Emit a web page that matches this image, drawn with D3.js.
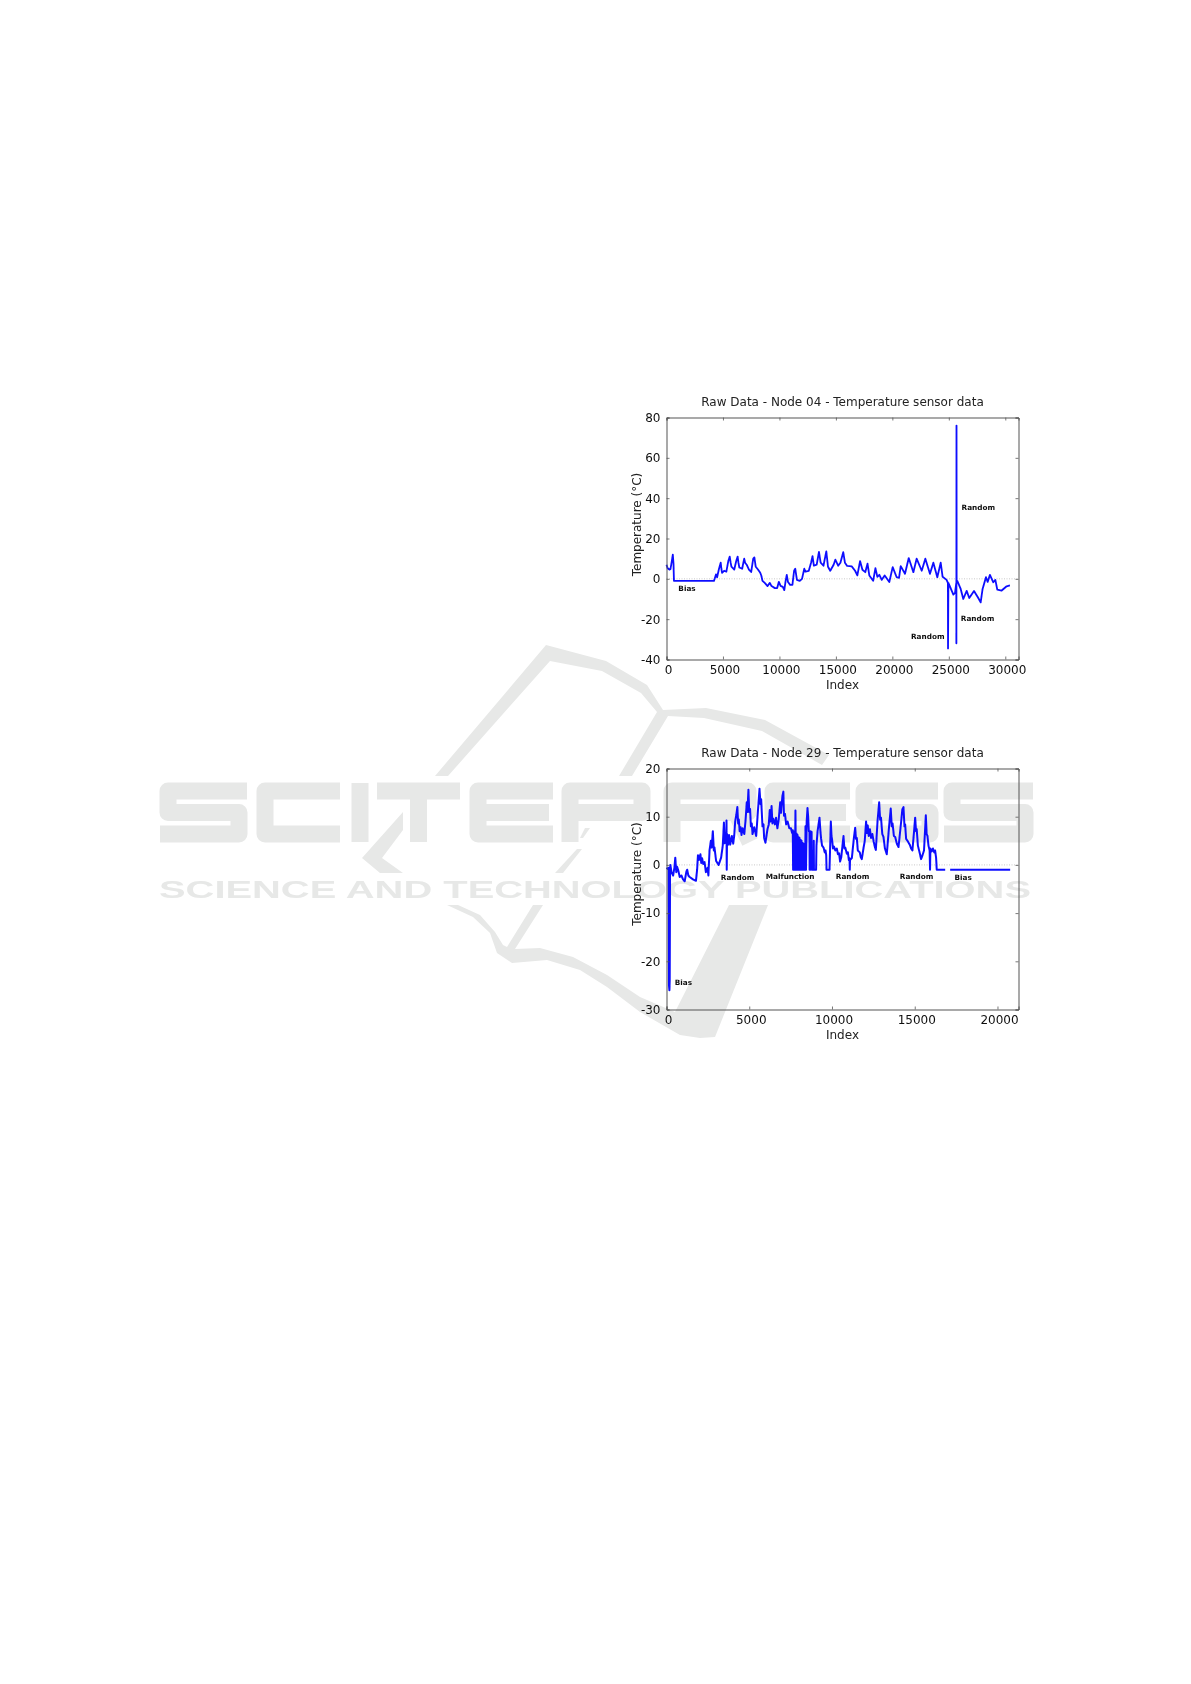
<!DOCTYPE html>
<html><head><meta charset="utf-8">
<script src="https://cdn.jsdelivr.net/npm/d3@7"></script>
<style>html,body{margin:0;background:#fff}svg{display:block}</style></head>
<body><svg id="c" width="1191" height="1684"></svg>
<script>
const node04Title = "Raw Data - Node 04 - Temperature sensor data";
const node29Title = "Raw Data - Node 29 - Temperature sensor data";
const xLabel = "Index", yLabel = "Temperature (°C)";
const node04XTicks = [0,5000,10000,15000,20000,25000,30000];
const node04YTicks = [-40,-20,0,20,40,60,80];
const node29XTicks = [0,5000,10000,15000,20000];
const node29YTicks = [-30,-20,-10,0,10,20];
const node04Domain = {x:[0,31170], y:[-40,80]};
const node29Domain = {x:[0,21270], y:[-30,20]};
const node04Notes = [["Bias",1050,-4.6],["Random",26130,35.3],["Random",26060,-19.4],["Random",21650,-28.5]];
const node29Notes = [["Bias",500,-24.4],["Random",3280,-2.6],["Malfunction",6000,-2.4],["Random",10230,-2.4],["Random",14100,-2.3],["Bias",17400,-2.6]];
const node04Points = [[0,7],[100,5.2],[250,4.6],[350,4.8],[450,8],[560,12],[620,7.5],[660,-1],[4200,-1],[4280,0.3],[4380,2.2],[4480,0.8],[4650,5],[4800,8],[4860,5],[4920,3],[5100,4],[5300,3.6],[5480,9],[5600,11],[5680,8],[5750,6],[6000,4.6],[6180,9],[6300,11],[6370,8],[6450,5.6],[6700,5],[6880,10],[6960,8],[7100,7],[7300,4.6],[7500,3.4],[7680,10],[7780,10.6],[7900,6],[8100,4.6],[8300,3],[8400,1.5],[8500,-1],[8700,-2],[8950,-3.6],[9150,-2],[9300,-3.6],[9600,-4.6],[9800,-4.6],[9950,-1.5],[10100,-3.5],[10300,-4],[10430,-5.6],[10550,-1],[10650,2],[10760,-1.6],[10950,-3],[11150,-3],[11300,4],[11400,5],[11550,-0.5],[11800,-1],[12000,0],[12200,5],[12300,3.6],[12600,4],[12800,8],[12930,11.2],[13050,6.5],[13300,7],[13500,13.4],[13650,8],[13900,6.5],[14150,13.6],[14300,6],[14500,4],[14800,7],[14950,9.5],[15200,6.5],[15400,8],[15650,13.2],[15800,8],[16000,6.4],[16400,6.2],[16700,4],[16900,1.7],[17140,8.8],[17350,4.5],[17600,3.3],[17800,7.5],[17960,1.7],[18300,-1],[18500,5.3],[18670,1],[18850,2],[19060,-0.5],[19320,1.7],[19730,-1.6],[20030,5.8],[20380,0.8],[20590,0.5],[20740,6.3],[21120,2.5],[21450,10.3],[21860,3.3],[22150,10],[22600,4],[22920,10],[23330,2.5],[23630,8],[23980,0.8],[24280,8],[24450,1],[24800,-0.5],[24920,-2],[24930,-34.5],[24960,-2],[25150,-4.5],[25400,-7.8],[25550,-7],[25660,-2],[25670,-32],[25680,76],[25690,-1],[25750,-1],[26050,-5],[26280,-10],[26580,-6],[26810,-9.5],[27230,-6],[27610,-9.5],[27820,-11.7],[27990,-5],[28290,0.8],[28440,-1.5],[28640,2],[28940,-1.7],[29120,-0.5],[29290,-5.3],[29680,-5.8],[30120,-3.7],[30410,-3.3]];
const node29Points = [[0,-0.6],[100,-0.9],[130,-0.6],[150,-25],[175,-26],[195,-24],[215,-1],[235,0],[300,-1.5],[400,-2.2],[480,-0.5],[530,1.5],[590,-1.5],[640,-0.4],[700,-1],[800,-2.5],[900,-2.2],[1000,-3],[1100,-3.4],[1200,-1.4],[1250,-1],[1320,-2.2],[1400,-2.5],[1600,-3],[1780,-3.3],[1850,-1],[1900,2],[1960,1],[2050,2.2],[2100,0.4],[2150,1.4],[2220,0.2],[2300,0.6],[2380,-1.5],[2480,-0.6],[2530,-2.2],[2600,3],[2680,5],[2730,3.6],[2800,7],[2860,3],[2900,3.6],[3000,0.8],[3150,0],[3300,1.5],[3400,4],[3470,8.8],[3510,4.5],[3560,6.6],[3600,4.6],[3625,9.2],[3640,-1],[3660,6.4],[3720,4.2],[3780,6.2],[3850,4.2],[3950,6],[4030,4.4],[4090,6],[4150,9],[4220,10.4],[4280,12],[4330,8.6],[4370,9.4],[4420,7],[4480,7.8],[4530,6.2],[4600,7.6],[4700,6.4],[4780,9.4],[4850,13],[4890,11],[4950,15.6],[5000,11],[5050,11.6],[5100,8],[5150,8.6],[5200,6.4],[5300,7.8],[5420,6],[5520,11],[5580,13.8],[5620,15.8],[5680,12.6],[5720,13.6],[5800,8],[5860,8.4],[5900,5.6],[5980,4.6],[6100,7.4],[6180,8.4],[6240,11.4],[6290,9],[6350,12.2],[6400,8.6],[6450,9.6],[6550,8.4],[6620,9.8],[6700,7.6],[6780,9.4],[6870,13],[6920,10.8],[7000,14.2],[7060,15.2],[7100,10.2],[7160,10.6],[7230,8.4],[7320,9],[7420,7.6],[7520,7.6],[7590,6.6],[7630,7.2],[7650,-1],[7670,7],[7700,-1],[7730,6.6],[7760,-1],[7790,11.3],[7830,-1],[7860,6.5],[7890,-1],[7920,6.2],[7950,-1],[7980,5.8],[8010,-1],[8040,5.6],[8070,-1],[8100,5.2],[8130,-1],[8160,5],[8190,-1],[8220,4.6],[8250,-1],[8280,4.4],[8310,-1],[8340,4],[8370,-1],[8400,8],[8430,-1],[8470,9],[8520,11.8],[8560,10],[8600,7],[8640,7],[8650,-1],[8690,-1],[8700,7],[8770,6.8],[8780,-1],[8890,-1],[8900,5],[8910,-1],[9040,-1],[9060,4],[9130,7],[9245,9.8],[9300,7],[9340,5.5],[9400,4],[9490,3.6],[9560,2.6],[9610,3],[9650,2],[9670,-1],[9850,-1],[9930,9],[9970,6],[10000,5.4],[10060,3.4],[10120,3.8],[10200,3],[10290,3.4],[10360,2.2],[10430,2.4],[10490,0.7],[10560,1.6],[10640,4.2],[10695,6],[10750,3.4],[10800,3.6],[10900,2.3],[10960,2.6],[11020,1],[11060,1.4],[11075,-1],[11090,1],[11200,1.4],[11320,5.5],[11400,7.7],[11450,5.4],[11500,5.6],[11560,3],[11680,2.6],[11740,1.6],[11800,1.2],[11900,3.4],[11980,5],[12060,9],[12110,6.6],[12160,8.2],[12220,6],[12290,7.4],[12360,5.6],[12440,6.4],[12520,4.8],[12600,3.6],[12650,3.1],[12750,9],[12850,13],[12910,9.4],[12960,9.8],[13040,6.4],[13110,5.8],[13200,3.4],[13310,2.2],[13450,8],[13550,11.7],[13610,8],[13660,8.6],[13740,6],[13820,5.8],[13920,4.4],[14020,3.7],[14180,9],[14250,11.5],[14320,12],[14380,8],[14420,8.4],[14480,5.4],[14560,5],[14700,4.2],[14780,3.4],[14860,3],[14960,7],[15025,9.8],[15080,7],[15120,7.4],[15190,4],[15320,2.2],[15380,1.2],[15430,1.6],[15560,3],[15670,10.3],[15720,6.4],[15770,6],[15830,4],[15900,3],[15925,-1],[15945,3.4],[16030,2.8],[16100,3.4],[16180,2.6],[16230,3],[16290,1.5],[16330,-1],[16840,-1],null,[17140,-1],[20765,-1]];

const blue = "#0d0dff", axisCol = "#555";
const svg = d3.select("#c");
const defs = svg.append("defs");
defs.append("filter").attr("id","soft").attr("x","-5%").attr("y","-5%").attr("width","110%").attr("height","110%")
  .append("feGaussianBlur").attr("stdDeviation",0.45);

// publisher watermark behind the charts
const markCol = "#e7e8e7";
const mark = svg.append("g").attr("fill",markCol).attr("filter","url(#soft)");
const logo = [
 "M435 776L546 645L606 661L647 685L663 710L706 708L765 720L829 755L822 765L762 731L704 718L668 716L632 776L619 776L657 712L641 693L602 671L550 661L448 776Z",
 "M447 905L473 917L490 933L497 953L512 963L547 960L580 970L607 987L640 1012L680 1035L700 1038L715 1037L768 905L729 905L675 1012L640 997L607 975L573 957L540 948L515 949L543 905L533 905L507 947L503 945L495 932L480 915L458 905Z",
 "M403 812L362 858L380 873L403 873L382 858L403 830Z",
 "M585 828L590 828L583 838L580 838Z",
 "M577 849L555 873L563 873L582 849Z"
];
mark.selectAll("path.logo").data(logo).join("path").attr("class","logo").attr("d",d=>d);

// square block lettering of the publisher name
const T = 791, M = 812.5, B = 834, H0 = 783, H1 = 842, K = 8;
const glyph = {
  S:(a,b)=>`M${b} ${T}H${a+K}V${M}H${b-K}V${B}H${a}`,
  C:(a,b)=>`M${b} ${T}H${a+K}V${B}H${b}`,
  I:(a,b)=>`M${(a+b)/2} ${H0}V${H1}`,
  T:(a,b)=>`M${a} ${T}H${b}M${(a+b)/2} ${T}V${H1}`,
  E:(a,b)=>`M${b} ${T}H${a+K}V${B}H${b}M${a+K} ${M}H${b-4}`,
  P:(a,b)=>`M${a+K} ${H1}V${T}H${b-K}V${M}H${a+K}`,
  R:(a,b)=>`M${a+K} ${H1}V${T}H${b-K}V${M}H${a+K}M${b-20} ${M}L${b-6} ${H1}`
};
const letters = [["S",160,247],["C",257,340],["I",352,368],["T",377,460],["E",470,553],["P",562,650],["R",664,756],["E",765,850],["S",856,938],["S",944,1033]];
mark.selectAll("path.letter").data(letters).join("path").attr("class","letter")
  .attr("d",d=>glyph[d[0]](d[1],d[2])).attr("fill","none").attr("stroke",markCol)
  .attr("stroke-width",17).attr("stroke-linejoin","round");
mark.append("text").text("SCIENCE AND TECHNOLOGY PUBLICATIONS").attr("x",159).attr("y",898)
  .attr("textLength",872).attr("lengthAdjust","spacingAndGlyphs")
  .style("font","bold 23px 'Liberation Sans'");

function drawChart(o){
  const x = d3.scaleLinear().domain(o.domain.x).range([o.left,o.right]);
  const y = d3.scaleLinear().domain(o.domain.y).range([o.bottom,o.top]);
  const g = svg.append("g").attr("filter","url(#soft)");
  g.append("line").attr("x1",x.range()[0]).attr("x2",x.range()[1]).attr("y1",y(0)).attr("y2",y(0))
    .attr("stroke","#bbb").attr("stroke-width",0.8).attr("stroke-dasharray","1,1.5");
  const line = d3.line().defined(d=>d).x(d=>x(d[0])).y(d=>y(d[1]));
  g.append("path").attr("d",line(o.points)).attr("fill","none").attr("stroke",blue)
    .attr("stroke-width",o.sw).attr("stroke-linejoin","round");
  const style = a=>{
    a.selectAll(".domain").attr("stroke",axisCol);
    a.selectAll(".tick line").attr("stroke",axisCol).attr("stroke-width",0.8);
    a.selectAll("text").attr("fill","#111").style("font","12px 'DejaVu Sans'");
  };
  const fmt = d=>String(d);
  g.append("g").attr("transform",`translate(0,${o.bottom})`)
    .call(d3.axisBottom(x).tickValues(o.xTicks).tickFormat(fmt).tickSize(-3).tickPadding(6)).call(style)
    .selectAll("text").attr("dx",1.5);
  g.append("g").attr("transform",`translate(0,${o.top})`)
    .call(d3.axisTop(x).tickValues(o.xTicks).tickFormat("").tickSize(-3)).call(style);
  g.append("g").attr("transform",`translate(${o.left},0)`)
    .call(d3.axisLeft(y).tickValues(o.yTicks).tickFormat(fmt).tickSize(-3).tickPadding(6)).call(style);
  g.append("g").attr("transform",`translate(${o.right},0)`)
    .call(d3.axisRight(y).tickValues(o.yTicks).tickFormat("").tickSize(-3)).call(style);
  const cx = (o.left+o.right)/2;
  g.append("text").text(o.title).attr("x",cx).attr("y",o.top-11.5).attr("text-anchor","middle")
    .attr("fill","#222").style("font","12px 'DejaVu Sans'");
  g.append("text").text(xLabel).attr("x",cx).attr("y",o.bottom+29).attr("text-anchor","middle")
    .attr("fill","#222").style("font","12px 'DejaVu Sans'");
  g.append("text").text(yLabel).attr("transform",`translate(${o.left-26},${(o.top+o.bottom)/2+(o.ylOffset)}) rotate(-90)`)
    .attr("text-anchor","middle").attr("fill","#222").style("font","12px 'DejaVu Sans'");
  g.selectAll("text.note").data(o.notes).join("text").attr("class","note").text(d=>d[0])
    .attr("x",d=>x(d[1])).attr("y",d=>y(d[2])+2.6).attr("fill","#111")
    .style("font","bold 7.3px 'DejaVu Sans'");
}
drawChart({title:node04Title,points:node04Points,notes:node04Notes,domain:node04Domain,xTicks:node04XTicks,yTicks:node04YTicks,
  left:666.5,right:1018.5,top:417.5,bottom:659.5,sw:1.8,ylOffset:-14});
drawChart({title:node29Title,points:node29Points,notes:node29Notes,domain:node29Domain,xTicks:node29XTicks,yTicks:node29YTicks,
  left:666.5,right:1018.5,top:768.5,bottom:1009.5,sw:2,ylOffset:-15});
</script></body></html>
